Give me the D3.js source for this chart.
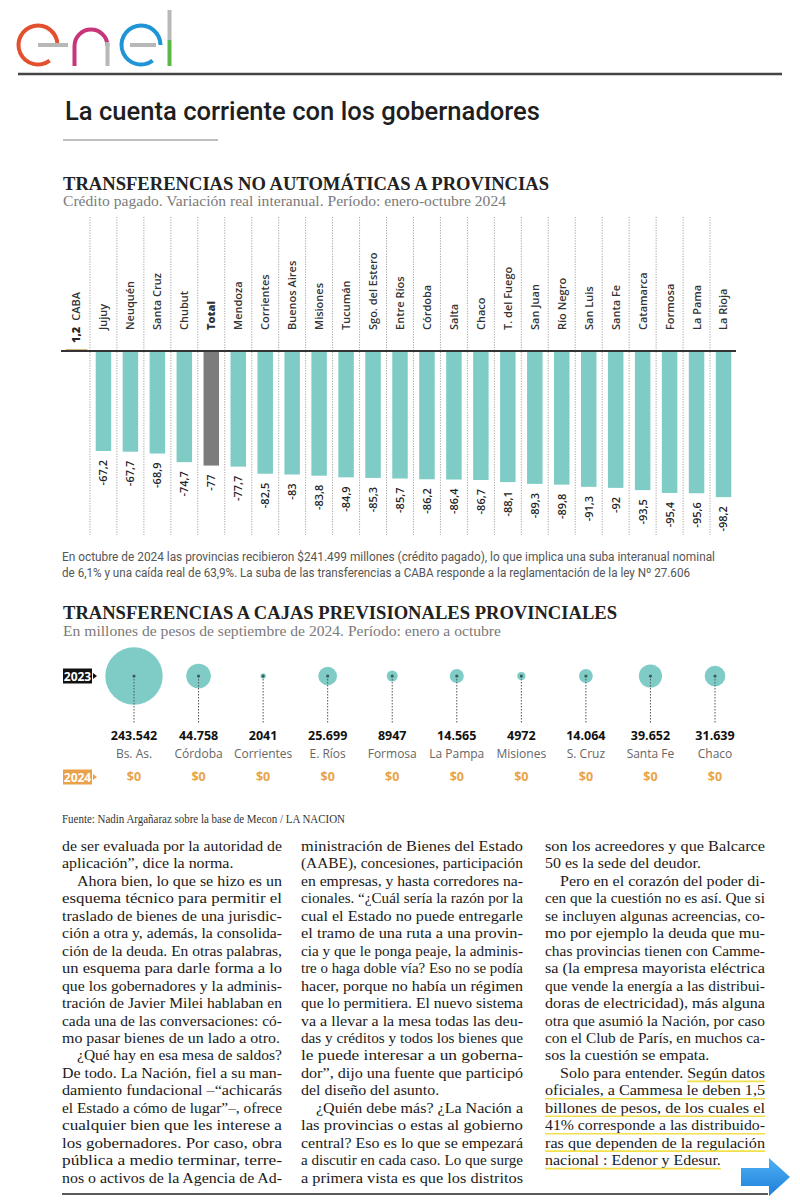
<!DOCTYPE html>
<html><head><meta charset="utf-8">
<script src="https://cdn.jsdelivr.net/npm/d3@7"></script>
<style>body{margin:0;background:#fff}svg{display:block}</style>
</head><body>
<svg id="c" width="800" height="1200"></svg>
<script>
// ---------- DATA ----------
const categories = ["CABA","Jujuy","Neuquén","Santa Cruz","Chubut","Total","Mendoza","Corrientes","Buenos Aires","Misiones","Tucumán","Sgo. del Estero","Entre Ríos","Córdoba","Salta","Chaco","T. del Fuego","San Juan","Río Negro","San Luis","Santa Fe","Catamarca","Formosa","La Pama","La Rioja"];
const values = [1.2,-67.2,-67.7,-68.9,-74.7,-77,-77.7,-82.5,-83,-83.8,-84.9,-85.3,-85.7,-86.2,-86.4,-86.7,-88.1,-89.3,-89.8,-91.3,-92,-93.5,-95.4,-95.6,-98.2];
const totalCategory = "Total";

const bubbleNames = ["Bs. As.","Córdoba","Corrientes","E. Ríos","Formosa","La Pampa","Misiones","S. Cruz","Santa Fe","Chaco"];
const values2023 = [243542,44758,2041,25699,8947,14565,4972,14064,39652,31639];
const labels2023 = ["243.542","44.758","2041","25.699","8947","14.565","4972","14.064","39.652","31.639"];
const values2024 = [0,0,0,0,0,0,0,0,0,0];
const yearLabels = ["2023","2024"];

const headerTitle = "La cuenta corriente con los gobernadores";
const chart1Title = "TRANSFERENCIAS NO AUTOMÁTICAS A PROVINCIAS";
const chart1Sub = "Crédito pagado. Variación real interanual. Período: enero-octubre 2024";
const footnoteLines = ["En octubre de 2024 las provincias recibieron $241.499 millones (crédito pagado), lo que implica una suba interanual nominal",
  "de 6,1% y una caída real de 63,9%. La suba de las transferencias a CABA responde a la reglamentación de la ley Nº 27.606"];
const chart2Title = "TRANSFERENCIAS A CAJAS PREVISIONALES PROVINCIALES";
const chart2Sub = "En millones de pesos de septiembre de 2024. Período: enero a octubre";
const sourceText = "Fuente: Nadin Argañaraz sobre la base de Mecon / LA NACION";

// article: columns -> paragraphs -> lines (first paragraph of a column may continue from previous)
const col1 = [
  ["de ser evaluada por la autoridad de","aplicación”, dice la norma."],
  ["Ahora bien, lo que se hizo es un","esquema técnico para permitir el","traslado de bienes de una jurisdic-","ción a otra y, además, la consolida-","ción de la deuda. En otras palabras,","un esquema para darle forma a lo","que los gobernadores y la adminis-","tración de Javier Milei hablaban en","cada una de las conversaciones: có-","mo pasar bienes de un lado a otro."],
  ["¿Qué hay en esa mesa de saldos?","De todo. La Nación, fiel a su man-","damiento fundacional –“achicarás","el Estado a cómo de lugar”–, ofrece","cualquier bien que les interese a","los gobernadores. Por caso, obra","pública a medio terminar, terre-","nos o activos de la Agencia de Ad-"]
];
const col2 = [
  ["ministración de Bienes del Estado","(AABE), concesiones, participación","en empresas, y hasta corredores na-","cionales. “¿Cuál sería la razón por la","cual el Estado no puede entregarle","el tramo de una ruta a una provin-","cia y que le ponga peaje, la adminis-","tre o haga doble vía? Eso no se podía","hacer, porque no había un régimen","que lo permitiera. El nuevo sistema","va a llevar a la mesa todas las deu-","das y créditos y todos los bienes que","le puede interesar a un goberna-","dor”, dijo una fuente que participó","del diseño del asunto."],
  ["¿Quién debe más? ¿La Nación a","las provincias o estas al gobierno","central? Eso es lo que se empezará","a discutir en cada caso. Lo que surge","a primera vista es que los distritos"]
];
const col3 = [
  ["son los acreedores y que Balcarce","50 es la sede del deudor."],
  ["Pero en el corazón del poder di-","cen que la cuestión no es así. Que si","se incluyen algunas acreencias, co-","mo por ejemplo la deuda que mu-","chas provincias tienen con Camme-","sa (la empresa mayorista eléctrica","que vende la energía a las distribui-","doras de electricidad), más alguna","otra que asumió la Nación, por caso","con el Club de París, en muchos ca-","sos la cuestión se empata."],
  ["Solo para entender. Según datos","oficiales, a Cammesa le deben 1,5","billones de pesos, de los cuales el","41% corresponde a las distribuido-","ras que dependen de la regulación","nacional : Edenor y Edesur."]
];
const highlightFrom = "Según";

// ---------- DRAW ----------
const svg = d3.select("#c");
const fmt = v => String(v).replace(".", ",");
const NARROW = "'Liberation Sans Narrow','Roboto','Open Sans',sans-serif";
const SERIF = "'Liberation Serif','DejaVu Serif',serif";
const SANS = "'Open Sans','Noto Sans',sans-serif";

// logo
const logo = svg.append("g");
logo.append("path").attr("transform","translate(38,45)")
  .attr("d", d3.arc()({innerRadius:17.5,outerRadius:21.5,startAngle:2.5,endAngle:2*Math.PI+1.5708}))
  .attr("fill","#e2502d");
logo.append("rect").attr("x",38).attr("y",43).attr("width",30).attr("height",4).attr("fill","#b8b8b8");
logo.append("path").attr("d","M74.5,66 L74.5,46 A16.5,16.5 0 0 1 107.5,46")
  .attr("fill","none").attr("stroke","#c8357a").attr("stroke-width",4);
logo.append("rect").attr("x",105.5).attr("y",42).attr("width",4).attr("height",24).attr("fill","#b8b8b8");
logo.append("path").attr("transform","translate(141,45)")
  .attr("d", d3.arc()({innerRadius:17.5,outerRadius:21.5,startAngle:2.5,endAngle:2*Math.PI+1.5708}))
  .attr("fill","#1f95d6");
logo.append("rect").attr("x",130).attr("y",43).attr("width",26).attr("height",4).attr("fill","#b8b8b8");
logo.append("rect").attr("x",167.5).attr("y",10).attr("width",4).attr("height",30).attr("fill","#b8b8b8");
logo.append("rect").attr("x",167.5).attr("y",40).attr("width",4).attr("height",26).attr("fill","#5cb848");

svg.append("line").attr("x1",18).attr("x2",782).attr("y1",74).attr("y2",74).attr("stroke","#444").attr("stroke-width",2.5);
svg.append("text").attr("x",65).attr("y",120).attr("textLength",475).attr("lengthAdjust","spacingAndGlyphs")
  .style("font-family","'Roboto','Open Sans',sans-serif").style("font-weight","500").style("font-size","26px").attr("fill","#1e1e1e").text(headerTitle);
svg.append("line").attr("x1",63).attr("x2",218).attr("y1",140).attr("y2",140).attr("stroke","#aaa").attr("stroke-width",1.5);

// chart 1 titles
svg.append("text").attr("x",63).attr("y",190).attr("textLength",486).attr("lengthAdjust","spacingAndGlyphs")
  .style("font-family",SERIF).style("font-weight","bold").style("font-size","18px").attr("fill","#222").text(chart1Title);
svg.append("text").attr("x",63).attr("y",206).attr("textLength",443).attr("lengthAdjust","spacingAndGlyphs")
  .style("font-family",SERIF).style("font-size","14px").attr("fill","#7a7a7a").text(chart1Sub);

// bar chart
const x = d3.scaleBand().domain(categories).range([63,737]).paddingInner(0.425).paddingOuter(0.2125);
const y = d3.scaleLinear().domain([-100,0]).range([499.8,351]);
const step = x.step();
const g1 = svg.append("g");
g1.selectAll("line.sep").data(categories.slice(1)).join("line")
  .attr("x1",d=>x(d)-step*x.paddingInner()/2).attr("x2",d=>x(d)-step*x.paddingInner()/2)
  .attr("y1",217).attr("y2",535).attr("stroke","#999").attr("stroke-width",0.9).attr("stroke-dasharray","1.2,1.4");
g1.selectAll("rect.bar").data(categories).join("rect")
  .attr("x",(d,i)=> values[i]>0 ? x(d)-3 : x(d)).attr("width",(d,i)=> values[i]>0 ? x.bandwidth()+6 : x.bandwidth())
  .attr("y",(d,i)=>Math.min(y(values[i]),y(0)))
  .attr("height",(d,i)=>Math.max(1.5,Math.abs(y(values[i])-y(0))))
  .attr("fill",(d,i)=> values[i]>0 ? "#c9a05e" : (d===totalCategory ? "#7c7c7c" : "#7fccc7"));
g1.append("line").attr("x1",61).attr("x2",736).attr("y1",y(0)).attr("y2",y(0)).attr("stroke","#333").attr("stroke-width",2);
categories.forEach((d,i)=>{
  const cx = x(d)+x.bandwidth()/2;
  const t = g1.append("text").attr("transform",`translate(${cx},${values[i]>0?343:330}) rotate(-90)`)
    .attr("dy","0.36em").style("font-family",SANS).style("font-size","11px")
    .style("font-weight", d===totalCategory ? "800" : "600").attr("fill","#333");
  if (values[i]>0){
    t.append("tspan").style("font-weight","800").attr("fill","#222").text(fmt(values[i]));
    t.append("tspan").attr("dx",6).text(d);
  } else t.text(d);
  if (values[i]<0){
    g1.append("text").attr("transform",`translate(${cx},${y(values[i])+9}) rotate(-90)`)
      .attr("dy","0.36em").attr("text-anchor","end").style("font-family",SANS).style("font-size","11px")
      .style("font-weight","600").attr("fill","#222").text(fmt(values[i]));
  }
});

// footnote
const fnW = [653,628];
footnoteLines.forEach((l,i)=>{
  svg.append("text").attr("x",62).attr("y",561+i*16).attr("textLength",fnW[i]).attr("lengthAdjust","spacingAndGlyphs")
    .style("font-family",NARROW).style("font-size","12px").attr("fill","#555").text(l);
});

// chart 2 titles
svg.append("text").attr("x",63).attr("y",619).attr("textLength",554).attr("lengthAdjust","spacingAndGlyphs")
  .style("font-family",SERIF).style("font-weight","bold").style("font-size","18px").attr("fill","#222").text(chart2Title);
svg.append("text").attr("x",63).attr("y",636).attr("textLength",438).attr("lengthAdjust","spacingAndGlyphs")
  .style("font-family",SERIF).style("font-size","14px").attr("fill","#7a7a7a").text(chart2Sub);

// bubbles
const bx = d3.scalePoint().domain(bubbleNames).range([134,715]);
const r = d3.scaleSqrt().domain([0,d3.max(values2023)]).range([0,28.7]);
const cy = 676;
const g2 = svg.append("g");
bubbleNames.forEach((n,i)=>{
  const cx = bx(n);
  g2.append("circle").attr("cx",cx).attr("cy",cy).attr("r",Math.max(2.6,r(values2023[i]))).attr("fill","#7fccc7");
  g2.append("line").attr("x1",cx).attr("x2",cx).attr("y1",cy).attr("y2",723).attr("stroke","#555").attr("stroke-width",1).attr("stroke-dasharray","1.5,1.5");
  g2.append("circle").attr("cx",cx).attr("cy",cy).attr("r",1.6).attr("fill","#3d5c5a");
  g2.append("text").attr("x",cx).attr("y",740).attr("text-anchor","middle").style("font-family",SANS)
    .style("font-size","12.5px").style("font-weight","700").attr("fill","#111").text(labels2023[i]);
  g2.append("text").attr("x",cx).attr("y",758).attr("text-anchor","middle").style("font-family",SANS)
    .style("font-size","12px").style("font-weight","500").attr("fill","#666").text(n);
  g2.append("text").attr("x",cx).attr("y",781).attr("text-anchor","middle").style("font-family",SANS)
    .style("font-size","12.5px").style("font-weight","700").attr("fill","#e9a448").text("$" + values2024[i]);
});
const yearY = [676, 777];
const yearFill = ["#111","#eba14a"];
yearLabels.forEach((yl,i)=>{
  g2.append("rect").attr("x",63).attr("y",yearY[i]-7.5).attr("width",29).attr("height",15).attr("fill",yearFill[i]);
  g2.append("path").attr("d",`M93,${yearY[i]-3} L97,${yearY[i]} L93,${yearY[i]+3}Z`).attr("fill",yearFill[i]);
  g2.append("text").attr("x",77.5).attr("y",yearY[i]+4.5).attr("text-anchor","middle").style("font-family",SANS)
    .style("font-size","12px").style("font-weight","700").attr("fill","#fff").text(yl);
});

svg.append("text").attr("x",62).attr("y",823).attr("textLength",283).attr("lengthAdjust","spacingAndGlyphs")
  .style("font-family",SERIF).style("font-size","12px").attr("fill","#333").text(sourceText);

// article
const colX = [62,301,545];
const colW = [220,222,220];
const lh = 17.45, top0 = 851, indent = 15;
const art = svg.append("g").style("font-family",SERIF).style("font-size","15.5px").attr("fill","#1a1a1a");
const lastLines = [];
const ratios = [];
[col1,col2,col3].forEach((col,ci)=>{
  let li = 0;
  col.forEach((para,pi)=>{
    para.forEach((line,k)=>{
      const ind = (k===0 && !(pi===0)) ? indent : 0;
      const t = art.append("text").attr("x",colX[ci]+ind).attr("y",top0+li*lh).text(line);
      const isLast = (k===para.length-1) && !(pi===col.length-1 && ci<2);
      const nat = t.node().getComputedTextLength();
      const target = colW[ci]-ind;
      if (!isLast){ t.attr("textLength",target).attr("lengthAdjust","spacingAndGlyphs"); ratios.push(target/nat); }
      else lastLines.push({t,nat,target});
      t.datum({ci,li,line,x0:colX[ci]+ind,y:top0+li*lh});
      li++;
    });
  });
});
const meanR = d3.mean(ratios);
lastLines.forEach(o=>{ o.t.attr("textLength",Math.min(o.target,o.nat*meanR)).attr("lengthAdjust","spacingAndGlyphs"); });

let hl = false;
art.selectAll("text").each(function(d){
  if (d.ci!==2) return;
  const idx = d.line.indexOf(highlightFrom);
  if (idx>=0) hl = true;
  if (!hl) return;
  let xs = d.x0, xe;
  try {
    if (idx>=0) xs = this.getStartPositionOfChar(idx).x;
    xe = this.getEndPositionOfChar(d.line.length-1).x;
  } catch(e){ xe = d.x0 + this.getComputedTextLength(); }
  svg.append("line").attr("x1",xs).attr("x2",xe).attr("y1",d.y+3.5).attr("y2",d.y+3.5)
    .attr("stroke","#f1e04a").attr("stroke-width",1.6);
});

svg.append("line").attr("x1",62).attr("x2",768).attr("y1",1194).attr("y2",1194).attr("stroke","#222").attr("stroke-width",1.5);

const defs = svg.append("defs");
const gr = defs.append("linearGradient").attr("id","ag").attr("x1",0).attr("x2",0).attr("y1",0).attr("y2",1);
gr.append("stop").attr("offset","0").attr("stop-color","#4fb0f5");
gr.append("stop").attr("offset","1").attr("stop-color","#1d7fd8");
svg.append("path").attr("d","M741,1168 L769,1168 L769,1158 L790,1177 L769,1196 L769,1186 L741,1186 Z").attr("fill","url(#ag)");
</script>
</body></html>
